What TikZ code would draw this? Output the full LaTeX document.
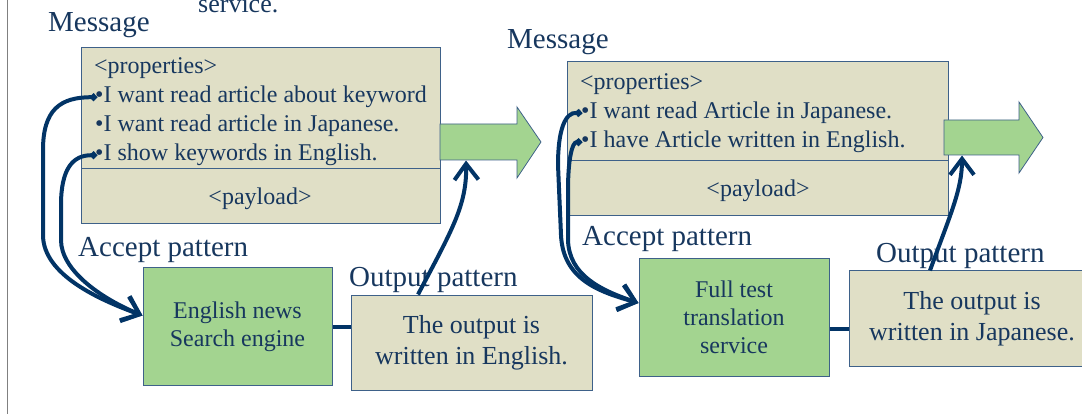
\documentclass[tikz,border=0pt]{standalone}
\usepackage{fontspec}
\setmainfont{Liberation Serif}
\usetikzlibrary{arrows.meta}

\definecolor{txtnavy}{HTML}{17375E}
\definecolor{linknavy}{HTML}{023466}
\definecolor{boxline}{HTML}{3E6189}
\definecolor{msgbeige}{HTML}{E0DFC6}
\definecolor{svcgreen}{HTML}{A3D490}

\tikzset{
  biglabel/.style={font=\fontsize{29}{34}\selectfont, text=txtnavy, inner sep=0pt, anchor=base west},
  prop/.style={font=\fontsize{24}{29}\selectfont, text=txtnavy, inner sep=0pt, anchor=base west},
  svcbox/.style={draw=boxline, line width=1pt, fill=svcgreen, align=center, text=txtnavy,
    font=\fontsize{24}{28}\selectfont},
  outbox/.style={draw=boxline, line width=1pt, fill=msgbeige, align=center, text=txtnavy,
    font=\fontsize{26}{31}\selectfont},
  link/.style={draw=linknavy, line width=4pt},
  acceptlink/.style={link, {Circle[length=7pt]}-{Straight Barb[length=16pt,width=26pt]}},
  outlink/.style={link, -{Straight Barb[length=16pt,width=24pt]}}
}

\begin{document}
\begin{tikzpicture}[x=1pt,y=-1pt]
\useasboundingbox (0,0) rectangle (1082,414);

% slide edge
\draw[gray, line width=1.5pt] (7.5,0) -- (7.5,414);
\node[prop, font=\fontsize{26}{30}\selectfont] (cutlabel) at (198,13) {service.};

% first message section
\node[biglabel] (msgtitleA) at (48,32) {Message};
\filldraw[fill=msgbeige, draw=boxline, line width=1pt] (81,48) rectangle (440,224);
\draw[boxline, line width=1pt] (81,169) -- (440,169);
\node[prop] (propA0) at (94,74) {<properties>};
\node[prop] (propA1) at (95,103) {•I want read article about keyword};
\node[prop] (propA2) at (95,132) {•I want read article in Japanese.};
\node[prop] (propA3) at (95,161) {•I show keywords in English.};
\node[prop, anchor=base] (payloadA) at (260,205) {<payload>};
\filldraw[fill=svcgreen, draw=boxline, line width=0.8pt]
  (440,124) -- (517,124) -- (517,107) -- (541,142) -- (517,178) -- (517,160) -- (440,160) -- cycle;
\coordinate (flowAbase) at (466,160.5);

% second message section
\node[biglabel] (msgtitleB) at (507,49) {Message};
\filldraw[fill=msgbeige, draw=boxline, line width=1pt] (567,62) rectangle (948,216);
\draw[boxline, line width=1pt] (567,161) -- (948,161);
\node[prop] (propB0) at (580,90) {<properties>};
\node[prop] (propB1) at (581,119) {•I want read Article in Japanese.};
\node[prop] (propB2) at (581,148) {•I have Article written in English.};
\node[prop, anchor=base] (payloadB) at (758,197) {<payload>};
\filldraw[fill=svcgreen, draw=boxline, line width=0.8pt]
  (944,120) -- (1019,120) -- (1019,102) -- (1043,137.5) -- (1019,173) -- (1019,155) -- (944,155) -- cycle;
\coordinate (flowBbase) at (962,155.5);

% pattern labels
\node[biglabel] (acceptA) at (78,257) {Accept pattern};
\node[biglabel] (outputA) at (349,287) {Output pattern};
\node[biglabel] (acceptB) at (582,246) {Accept pattern};
\node[biglabel] (outputB) at (876,262) {Output pattern};

% services and outputs
\node[svcbox, minimum width=189pt, minimum height=117pt] (svcA) at (237.5,326.5) {English news\\Search engine};
\node[outbox, minimum width=241pt, minimum height=95pt] (outA) at (471.5,342.5) {The output is\\written in English.};
\node[svcbox, minimum width=190pt, minimum height=117pt] (svcB) at (734,317.5) {Full test\\translation\\service};
\node[outbox, minimum width=246pt, minimum height=95pt] (outB) at (972,318.5) {The output is\\written in Japanese.};

% connectors
\draw[link] (svcA.east) -- (outA.west |- svcA.east);
\draw[link] ([yshift=-11pt]svcB.east) -- ([yshift=-10pt]outB.west);
\draw[acceptlink] ([xshift=2pt]propA1.west) .. controls (60,97) and (43,110) .. (43,150) -- (43,235)
  .. controls (43,275) and (100,300) .. ([yshift=11pt]svcA.west);
\draw[acceptlink] ([xshift=2pt]propA3.west) .. controls (72,155) and (61,170) .. (61,205) -- (61,240)
  .. controls (61,270) and (100,298) .. ([yshift=11pt]svcA.west);
\draw[acceptlink] ([xshift=1pt]propB1.west) .. controls (565,112) and (558,130) .. (558,165) -- (561,235)
  .. controls (563,280) and (600,292) .. ([yshift=14.5pt]svcB.west);
\draw[acceptlink] ([xshift=1pt]propB2.west) .. controls (572,142) and (568,160) .. (568,190) -- (568,240)
  .. controls (569,275) and (600,290) .. ([yshift=14.5pt]svcB.west);
\draw[outlink] ([xshift=-53.5pt]outA.north) .. controls (452,230) and (467,205) .. (flowAbase);
\draw[outlink] ([xshift=-42pt]outB.north) .. controls (950,215) and (962,190) .. (flowBbase);

\end{tikzpicture}
\end{document}
